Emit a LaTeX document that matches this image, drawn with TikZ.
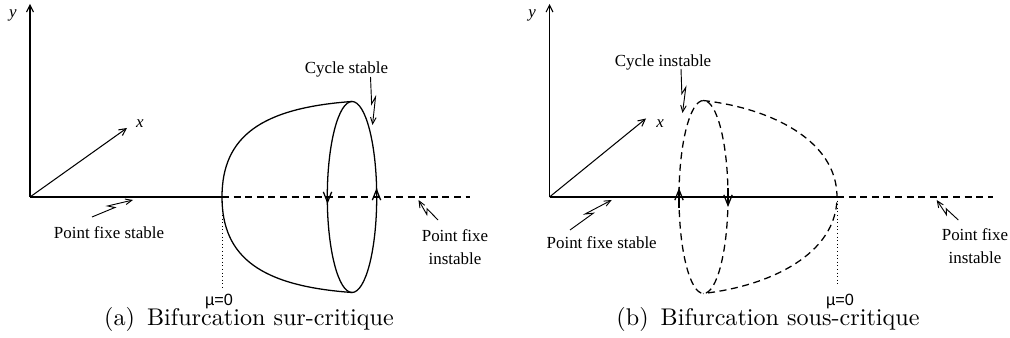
\documentclass[tikz,border=0pt]{standalone}
\usepackage{fontspec}
\newfontfamily\tms{Liberation Serif}
\newfontfamily\hlv{Liberation Sans}
\usetikzlibrary{arrows.meta,calc}
\tikzset{
  lbl/.style={font=\tms\fontsize{7.3}{9.75}\selectfont, inner sep=0pt, align=center, anchor=base},
  axlbl/.style={font=\tms\itshape\fontsize{7.3}{8.5}\selectfont, inner sep=0pt, anchor=base},
  mulbl/.style={font=\hlv\fontsize{7}{8}\selectfont, inner sep=0pt, anchor=base},
  capt/.style={font=\fontsize{10.4}{12}\selectfont, inner sep=0pt, anchor=base},
  axisarrow/.style={line width=0.45pt, -{Straight Barb[length=3pt,width=3pt]}},
  solidln/.style={line width=0.55pt},
  dashln/.style={line width=0.55pt, dash pattern=on 3pt off 2pt},
  dotln/.style={line width=0.4pt, dash pattern=on 0.45pt off 1.1pt},
  flow/.style={line width=0.55pt, -{Straight Barb[length=4.5pt,width=3.6pt]}},
  zz/.style={line width=0.4pt, -{Straight Barb[length=2.8pt,width=2.4pt]}},
}
\newcommand\bolt[2]{\draw[zz] (#1) -- ($(#1)!0.56!(#2)$) -- ($(#1)!0.42!(#2)!1.8pt!90:(#2)$) -- (#2);}
\begin{document}
\begin{tikzpicture}[x=0.431pt,y=-0.431pt]
\useasboundingbox (0,0) rectangle (1010,338);
% ================= (a) =================
\coordinate (oA) at (30,197);
\coordinate (yA) at (30,4);
\coordinate (xA) at (127,128);
\coordinate (bifA) at (222,197);
\coordinate (endA) at (470,197);
\coordinate (topA) at (352,101.5);
\coordinate (botA) at (352,292.5);
\coordinate (cenA) at (352,197);
\coordinate (muA) at (222,290);
\draw[axisarrow] (oA) -- (yA);
\draw[axisarrow] (oA) -- (xA);
\node[axlbl] (ylA) at (13,18) {y};
\node[axlbl] (xlA) at (140,127.5) {x};
\draw[solidln] (oA) -- (bifA);
\draw[dashln] (bifA) -- (endA);
\draw[solidln] (topA) .. controls (262,108) and (222,136) .. (bifA)
               .. controls (222,258) and (262,286) .. (botA);
\draw[solidln] (cenA) ellipse [x radius=10.65pt, y radius=41.16pt];
\draw[flow] (327.5,186) -- (327.5,204);
\draw[flow] (376.5,208) -- (376.5,188);
\draw[dotln] (bifA) -- (muA);
\node[mulbl] (muLA) at (219,305.5) {µ=0};
\node[lbl] (csA) at (346.5,73.5) {Cycle stable};
\coordinate (csAs) at (370.5,77);
\coordinate (csAt) at (372.5,125);
\bolt{csAs}{csAt}
\node[lbl] (pfsA) at (109,238.3) {Point fixe stable};
\coordinate (pfsAs) at (92,217);
\coordinate (pfsAt) at (133,200);
\bolt{pfsAs}{pfsAt}
\node[lbl] (pfiA) at (455,264.3) {Point fixe\\instable};
\coordinate (pfiAs) at (438,220);
\coordinate (pfiAt) at (418.5,200);
\bolt{pfiAs}{pfiAt}
\node[capt] (capA) at (249,325.5) {(a)\enspace Bifurcation sur-critique};
% ================= (b) =================
\coordinate (oB) at (549.5,197);
\coordinate (yB) at (549.5,4);
\coordinate (xB) at (646,118.5);
\coordinate (bifB) at (837,197);
\coordinate (endB) at (993,197);
\coordinate (topB) at (703,100.5);
\coordinate (botB) at (703,293.5);
\coordinate (cenB) at (703.5,197);
\coordinate (muB) at (837,285);
\draw[axisarrow] (oB) -- (yB);
\draw[axisarrow] (oB) -- (xB);
\node[axlbl] (ylB) at (532,18) {y};
\node[axlbl] (xlB) at (660,127.5) {x};
\draw[solidln] (oB) -- (bifB);
\draw[dashln] (bifB) -- (endB);
\draw[dashln] (topB) .. controls (770,108) and (837,140) .. (bifB)
              .. controls (837,254) and (770,286) .. (botB);
\draw[dashln] (cenB) ellipse [x radius=10.56pt, y radius=41.59pt];
\draw[flow] (679,208) -- (679,188);
\draw[flow] (728,188) -- (728,207);
\draw[dotln] (bifB) -- (muB);
\node[mulbl] (muLB) at (840,305.5) {µ=0};
\node[lbl] (ciB) at (663,66.7) {Cycle instable};
\coordinate (ciBs) at (681,69);
\coordinate (ciBt) at (682.5,113);
\bolt{ciBs}{ciBt}
\node[lbl] (pfsB) at (601.7,248.3) {Point fixe stable};
\coordinate (pfsBs) at (570,230);
\coordinate (pfsBt) at (611.7,200);
\bolt{pfsBs}{pfsBt}
\node[lbl] (pfiB) at (975,263.5) {Point fixe\\instable};
\coordinate (pfiBs) at (958.3,220);
\coordinate (pfiBt) at (936.7,200);
\bolt{pfiBs}{pfiBt}
\node[capt] (capB) at (768,325.5) {(b)\enspace Bifurcation sous-critique};
\end{tikzpicture}
\end{document}
